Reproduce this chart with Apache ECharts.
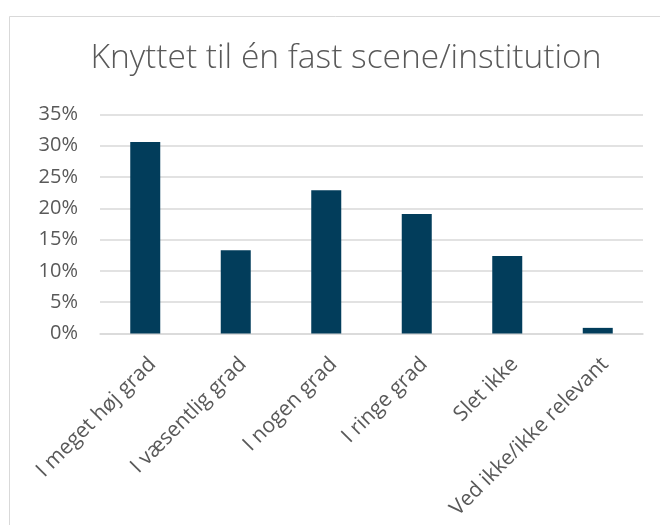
<!DOCTYPE html>
<html><head><meta charset="utf-8">
<script src="https://cdn.jsdelivr.net/npm/echarts@6/dist/echarts.min.js"></script>
<style>html,body{margin:0;padding:0;background:#fff}#c{width:660px;height:525px}</style>
</head><body><div id="c"></div>
<script>
const titleText = "Knyttet til én fast scene/institution";
const categories = ["I meget høj grad","I væsentlig grad","I nogen grad","I ringe grad","Slet ikke","Ved ikke/ikke relevant"];
const values = [30.6, 13.3, 22.9, 19.1, 12.4, 0.9];
const yTicks = [0,5,10,15,20,25,30,35];

const FONT = "'Open Sans', 'Liberation Sans', sans-serif";
const chart = echarts.init(document.getElementById('c'), null, {renderer:'canvas'});
chart.setOption({
  animation:false,
  backgroundColor:'#fff',
  graphic:[{type:'rect', shape:{x:9.5,y:16.5,width:700,height:600}, style:{fill:'none',stroke:'#d9d9d9',lineWidth:1}, silent:true}],
  title:{text:titleText, left:341, textAlign:'center', top:36,
    textStyle:{fontFamily:FONT, fontWeight:300, fontSize:33.5, color:'#595959'}},
  grid:{left:100, right:17, top:114.5, bottom:191.5, containLabel:false},
  xAxis:{type:'category', data:categories,
    axisLine:{lineStyle:{color:'#d9d9d9', width:1.5}},
    axisTick:{show:false},
    axisLabel:{rotate:45, interval:0, fontFamily:FONT, fontSize:21, color:'#595959', margin:20, verticalAlign:'top'}},
  yAxis:{type:'value', min:yTicks[0], max:yTicks[yTicks.length-1], interval:5,
    axisLine:{show:false}, axisTick:{show:false},
    splitLine:{lineStyle:{color:'#d9d9d9', width:1.5}},
    axisLabel:{formatter:v=>v+'%', fontFamily:FONT, fontSize:20, color:'#595959', margin:22}},
  series:[{type:'bar', data:values, barWidth:30, itemStyle:{color:'#023d5b'}}]
});
</script></body></html>
